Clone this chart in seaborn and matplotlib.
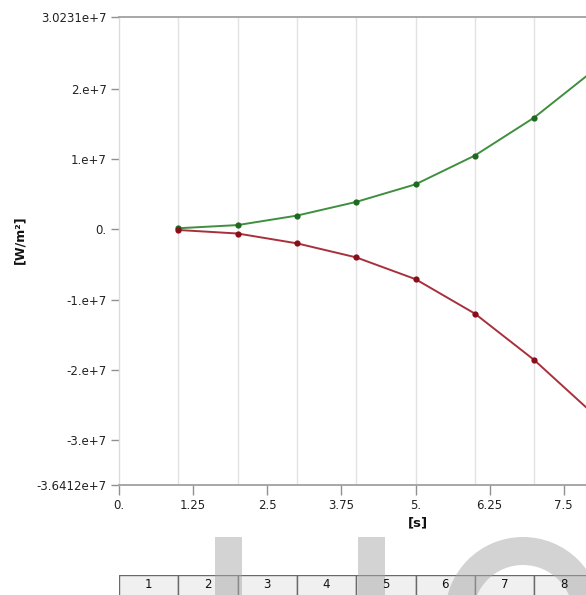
import matplotlib
matplotlib.use("Agg")
import matplotlib.pyplot as plt
from matplotlib.patches import Rectangle, Wedge
import numpy as np
import pandas as pd
import seaborn as sns

# Heat flux history at the sample times
time_s = [1, 2, 3, 4, 5, 6, 7, 8]
flux_max = [0.15e6, 0.6e6, 1.95e6, 3.9e6, 6.4e6, 10.5e6, 15.9e6, 22.6e6]
flux_min = [-0.1e6, -0.6e6, -2.0e6, -4.0e6, -7.1e6, -12.0e6, -18.6e6, -26.3e6]

y_ticks = [-3.6412e7, -3e7, -2e7, -1e7, 0, 1e7, 2e7, 3.0231e7]
y_tick_labels = ["-3.6412e+7", "-3.e+7", "-2.e+7", "-1.e+7", "0.", "1.e+7", "2.e+7", "3.0231e+7"]
x_ticks = [0, 1.25, 2.5, 3.75, 5, 6.25, 7.5]
x_tick_labels = ["0.", "1.25", "2.5", "3.75", "5.", "6.25", "7.5"]
step_labels = ["1", "2", "3", "4", "5", "6", "7", "8"]

df = pd.DataFrame({
    "t": time_s * 2,
    "flux": flux_max + flux_min,
    "series": ["Maximum"] * len(time_s) + ["Minimum"] * len(time_s),
})

sns.set_style("white")
plt.rcParams["font.family"] = ["DejaVu Sans"]

W, H = 586, 595
fig = plt.figure(figsize=(W / 100, H / 100), dpi=100)

ax_left, ax_right = 119, 586
ax_top, ax_bottom = 17, 485
ax = fig.add_axes([ax_left / W, 1 - ax_bottom / H, (ax_right - ax_left) / W, (ax_bottom - ax_top) / H])

x_max = (ax_right - ax_left) / 59.3
ax.set_xlim(0, x_max)
ax.set_ylim(y_ticks[0], y_ticks[-1])

# vertical guides at each result time
for t in time_s:
    ax.axvline(t, color="#e2e2e2", lw=1.0, zorder=0)

sns.lineplot(
    data=df, x="t", y="flux", hue="series",
    palette={"Maximum": "#3f8f3f", "Minimum": "#a8303c"},
    linewidth=1.4, marker="o", markersize=4.5, markeredgewidth=0,
    legend=False, ax=ax, zorder=3,
)
for line, mc in zip(ax.lines[-2:], ["#1e6a1e", "#8a0d1a"]):
    line.set_markerfacecolor(mc)

ax.set_xticks(x_ticks)
ax.set_xticklabels(x_tick_labels)
ax.set_yticks(y_ticks)
ax.set_yticklabels(y_tick_labels)
ax.tick_params(axis="x", bottom=True, direction="out", length=7.2, width=1, color="#909090",
               labelsize=8.5, labelcolor="#222222", pad=3)
ax.tick_params(axis="y", left=True, direction="out", length=6, width=1, color="#909090",
               labelsize=8.5, labelcolor="#222222", pad=3)

for side in ["top", "bottom"]:
    ax.spines[side].set_color("#a0a0a0")
    ax.spines[side].set_linewidth(1.3)
ax.spines["left"].set_color("#dcdcdc")
ax.spines["left"].set_linewidth(1.0)
ax.spines["right"].set_visible(False)

ax.set_xlabel("")
ax.set_ylabel("")
fig.text(20 / W, 1 - 240 / H, "[W/m\u00b2]", rotation=90, ha="center", va="center",
         fontsize=9, fontweight="bold", color="#111111")
fig.text(418 / W, 1 - 523 / H, "[s]", ha="center", va="center",
         fontsize=9.5, fontweight="bold", color="#111111")

# result step table under the chart
tab_top = 575
tax = fig.add_axes([ax_left / W, 0, (ax_right - ax_left) / W, (H - tab_top) / H])
tax.set_xlim(0, x_max)
tax.set_ylim(0, 1)
tax.axis("off")
cols = np.array(time_s, dtype=float) - 0.5
tax.bar(cols, 2, width=1, bottom=-1, color="#f0f0f0", edgecolor="#6a6a6a", linewidth=1.0)

# translucent grey lettering across the lower part
wm = fig.add_axes([0, 0, 1, 1], zorder=1)
wm.set_xlim(0, W)
wm.set_ylim(H, 0)
wm.axis("off")
wm.patch.set_alpha(0)
wm_color = "#a8a8a8"
wm.add_patch(Rectangle((215, 537), 27, 70, color=wm_color, alpha=0.5, lw=0))
wm.add_patch(Rectangle((358, 537), 27, 70, color=wm_color, alpha=0.5, lw=0))
wm.add_patch(Wedge((523, 615), 78, 0, 360, width=28, color=wm_color, alpha=0.5, lw=0))

# step numbers sit on top of everything
for c, lab in zip(cols, step_labels):
    fig.text(c, 0.5, lab, transform=tax.transData, ha="center", va="center",
             fontsize=8.5, color="#111111", zorder=5)

fig.savefig("out.png", dpi=100)
